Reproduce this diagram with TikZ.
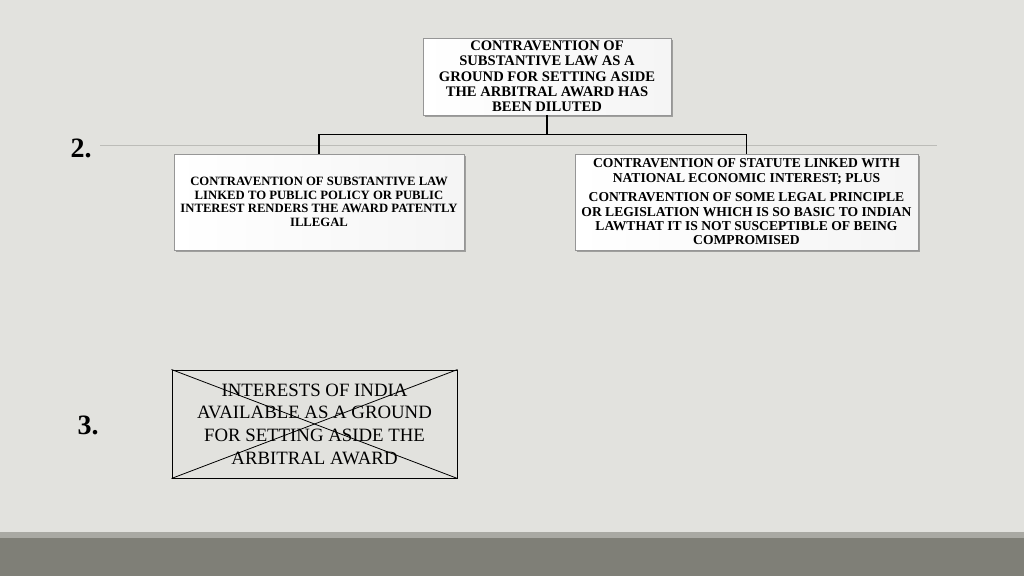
\documentclass[tikz,border=0pt]{standalone}
\usepackage{fontspec}
\setmainfont{Liberation Serif}
\definecolor{mybg}{RGB}{226,226,222}
\definecolor{myband}{RGB}{127,127,119}
\definecolor{mystrip}{RGB}{169,169,163}
\definecolor{myrule}{RGB}{188,188,184}
\definecolor{myedge}{RGB}{150,150,150}
\usetikzlibrary{positioning,shadows,calc}

\begin{document}
\begin{tikzpicture}[x=1pt,y=-1pt,
    every node/.style={align=center,inner sep=0pt},
    chartbox/.style={draw=myedge,left color=white,right color=gray!8,
      drop shadow={shadow xshift=1.5pt,shadow yshift=-1.5pt,fill=black!55,opacity=0.6},
      font=\bfseries\fontsize{12.7}{13.5}\selectfont},
    numlabel/.style={font=\bfseries\fontsize{28}{30}\selectfont},
    link/.style={draw=black,line width=1.2pt}
    ]

    % the slide
    \fill[mybg] (0,0) rectangle (1024,576);
    \useasboundingbox (0,0) rectangle (1024,576);
    \fill[mystrip] (0,532) rectangle (1024,538);
    \fill[myband] (0,538) rectangle (1024,576);
    \draw[myrule,line width=0.8pt] (100,145) -- (937,145);

    % the numbers
    \node[numlabel] (two) at (81,148) {2.};
    \node[numlabel] (three) at (88,425) {3.};

    % the boxes of point 2
    \node[chartbox,minimum width=248,minimum height=77,
      font=\bfseries\fontsize{14.6}{15.3}\selectfont] (diluted) at (547,76.5)
      {CONTRAVENTION OF\\ SUBSTANTIVE LAW AS A\\ GROUND FOR SETTING ASIDE\\
       THE ARBITRAL AWARD HAS\\ BEEN DILUTED};
    \node[chartbox,minimum width=290,minimum height=96] (illegal) at (319,202)
      {CONTRAVENTION OF SUBSTANTIVE LAW\\ LINKED TO PUBLIC POLICY OR PUBLIC\\
       INTEREST RENDERS THE AWARD PATENTLY\\ ILLEGAL};
    \node[chartbox,minimum width=343,minimum height=96,
      font=\bfseries\fontsize{13.6}{14.4}\selectfont] (statute) at (746.5,202)
      {CONTRAVENTION OF STATUTE LINKED WITH\\ NATIONAL ECONOMIC INTEREST; PLUS\\[5pt]
       CONTRAVENTION OF SOME LEGAL PRINCIPLE\\ OR LEGISLATION WHICH IS SO BASIC TO INDIAN\\
       LAWTHAT IT IS NOT SUSCEPTIBLE OF BEING\\ COMPROMISED};

    % the connectors
    \coordinate (split) at ($(diluted.south)+(0,19)$);
    \draw[link] (diluted.south) -- (split);
    \draw[link] (illegal.north) |- (split) -| (statute.north);

    % the box of point 3
    \node[draw=black,line width=0.9pt,minimum width=285,minimum height=108,
      font=\fontsize{18.8}{22.7}\selectfont] (interests) at (314.5,424)
      {INTERESTS OF INDIA\\ AVAILABLE AS A GROUND\\ FOR SETTING ASIDE THE\\ ARBITRAL AWARD};
    \draw[line width=0.8pt] (interests.north west) -- (interests.south east);
    \draw[line width=0.8pt] (interests.south west) -- (interests.north east);
\end{tikzpicture}
\end{document}
